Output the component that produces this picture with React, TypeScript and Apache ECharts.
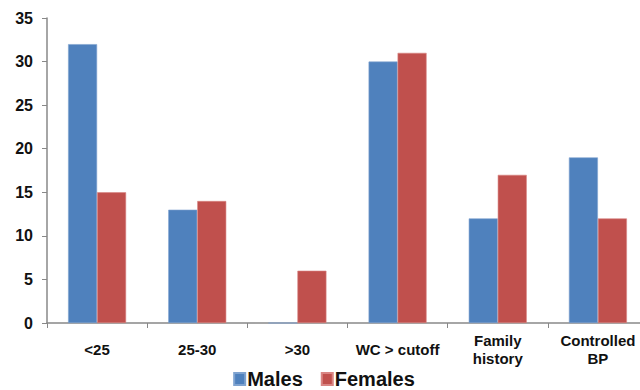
import React, { useEffect, useRef } from "react";
import * as echarts from "echarts";

const categories = ["<25", "25-30", ">30", "WC > cutoff", "Family\nhistory", "Controlled\nBP"];
const males = [32, 13, 0, 30, 12, 19];
const females = [15, 14, 6, 31, 17, 12];
const yTicks = { min: 0, max: 35, interval: 5 };

export default function App() {
  const ref = useRef<HTMLDivElement>(null);
  useEffect(() => {
    if (!ref.current) return;
    const chart = echarts.init(ref.current, undefined, { renderer: "svg" });
    const font = "'Liberation Sans', Arial, sans-serif";
    chart.setOption({
      animation: false,
      textStyle: { fontFamily: font },
      grid: { left: 47, top: 18, bottom: 67, right: 0, containLabel: false },
      legend: {
        bottom: -4,
        left: "center",
        itemWidth: 11,
        itemHeight: 12,
        itemGap: 18,
        icon: "rect",
        textStyle: { fontSize: 20, fontWeight: "bold", color: "#111", fontFamily: font, padding: [0, 0, 0, -3] },
        data: ["Males", "Females"],
      },
      xAxis: {
        type: "category",
        data: categories,
        axisLine: { lineStyle: { color: "#888", width: 1.5 } },
        axisTick: { show: true, alignWithLabel: false, length: 5, lineStyle: { color: "#888" } },
        axisLabel: {
          fontSize: 15,
          fontWeight: "bold",
          color: "#111",
          margin: 26,
          lineHeight: 18,
          verticalAlign: "middle",
          interval: 0,
          fontFamily: font,
        },
      },
      yAxis: {
        type: "value",
        min: yTicks.min,
        max: yTicks.max,
        interval: yTicks.interval,
        splitLine: { show: false },
        axisLine: { show: true, lineStyle: { color: "#888", width: 1.5 } },
        axisTick: { show: true, length: 5, lineStyle: { color: "#888" } },
        axisLabel: { fontSize: 16, fontWeight: "bold", color: "#111", margin: 14, fontFamily: font },
      },
      series: [
        {
          name: "Males",
          type: "bar",
          data: males,
          barWidth: 29,
          barGap: "0%",
          itemStyle: { color: "#4F81BD", borderColor: "#7FA3D0", borderWidth: 0.6 },
        },
        {
          name: "Females",
          type: "bar",
          data: females,
          barWidth: 29,
          barGap: "0%",
          itemStyle: { color: "#C0504D", borderColor: "#D98583", borderWidth: 0.6 },
        },
      ],
    });
    return () => chart.dispose();
  }, []);
  return (
    <div style={{ position: "absolute", left: 0, top: 0, width: 640, height: 390, overflow: "hidden" }}>
      <div ref={ref} style={{ width: 648, height: 390 }} />
    </div>
  );
}
